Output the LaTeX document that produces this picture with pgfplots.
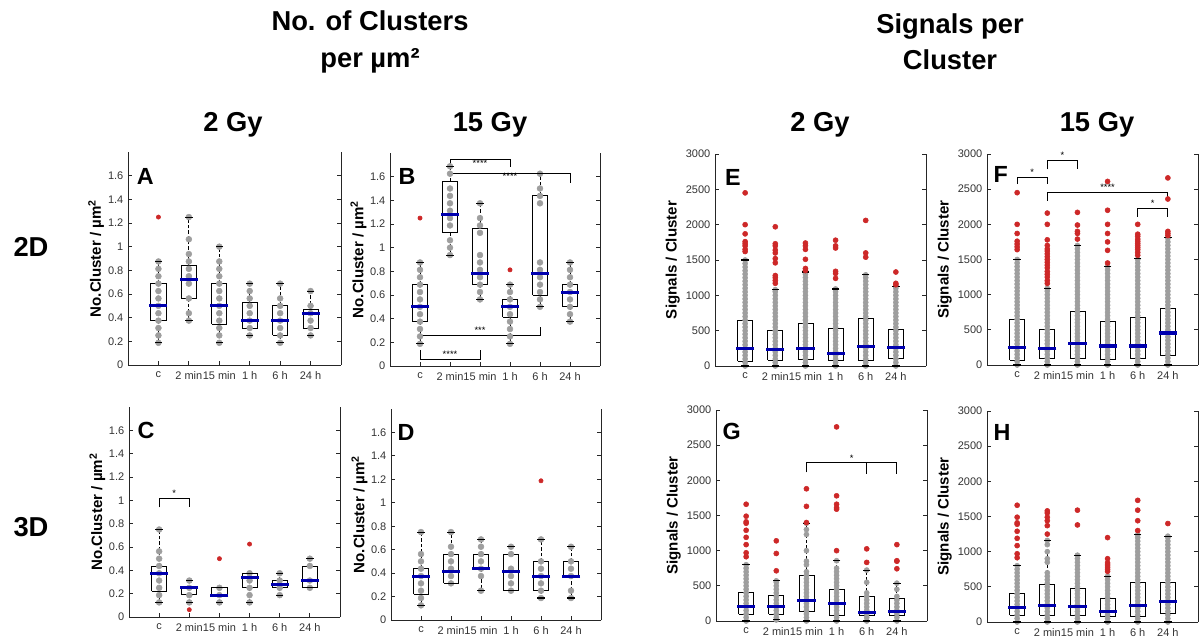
\documentclass[border=0pt]{standalone}
\usepackage{pgfplots}
\pgfplotsset{compat=1.18}
\usepackage{fontspec}
\setmainfont{Liberation Sans}
\definecolor{medblue}{RGB}{0,0,175}
\definecolor{outred}{RGB}{205,40,40}
\definecolor{dotgray}{RGB}{158,158,158}
\definecolor{axgray}{RGB}{38,38,38}
\tikzset{
  lett/.style={anchor=west, inner sep=0pt, font=\fontsize{17.5}{20}\selectfont\bfseries},
  star/.style={inner sep=1pt, font=\fontsize{7}{8}\selectfont},
  hdr/.style={font=\fontsize{20.5}{24}\selectfont\bfseries},
}
\pgfplotsset{
  panel/.style={
    scale only axis, clip=false, unbounded coords=jump,
    xmin=0, xmax=7, ymin=0,
    xtick={1,2,3,4,5,6}, xticklabels={c,2 min,15 min,1 h,6 h,24 h},
    axis x line*=bottom, axis y line*=box,
    axis line style={axgray, line width=0.6pt, -},
    tick align=inside, major tick length=3pt,
    tick style={axgray, line width=0.6pt},
    ticklabel style={font=\fontsize{8.25}{10}\selectfont, text=black!80},
    xticklabel style={yshift=-1.5pt},
    /pgf/number format/assume math mode=true,
    /pgf/number format/1000 sep={},
    scaled y ticks=false,
    ylabel style={font=\fontsize{11.3}{13}\selectfont\bfseries, at={(axis description cs:-0.15,0.5)}, anchor=center},
  },
  cl/.style={panel, ymax=1.8, ytick={0,0.2,0.4,0.6,0.8,1,1.2,1.4,1.6}, ylabel={No.Cluster / µm\textsuperscript{2}}},
  sg/.style={panel, ymax=3000, ytick={0,500,1000,1500,2000,2500,3000}, ylabel={Signals / Cluster},
    ylabel style={at={(axis description cs:-0.2,0.5)}}},
  gd/.style={only marks, mark=*, color=dotgray, mark size=2.2pt, mark options={fill=dotgray, draw=none}},
  gds/.style={gd, mark size=1.9pt},
  rd/.style={only marks, mark=*, color=outred, mark size=1.6pt, mark options={fill=outred, draw=none}},
  rds/.style={rd, mark size=1.9pt},
  boxl/.style={black, line width=0.6pt, mark=none, line join=miter},
  whis/.style={black, line width=0.6pt, mark=none, dash pattern=on 2.5pt off 1.5pt},
  capm/.style={only marks, mark=-, mark size=2.8pt, mark options={draw=black, line width=0.8pt, solid}},
  medm/.style={only marks, mark=-, mark size=6.8pt, mark options={draw=medblue, line width=2.3pt, solid}},
  brk/.style={black, line width=0.6pt, mark=none},
}
\begin{document}
\begin{tikzpicture}
\useasboundingbox (0,0) rectangle (900.75pt,479.25pt);
% ---------- headers ----------
\node[align=center, font=\fontsize{20.5}{27.5}\selectfont\bfseries] at (277.5pt,448pt) {No. of Clusters\\per µm²};
\node[align=center, font=\fontsize{20.5}{27.5}\selectfont\bfseries] at (712.5pt,448pt) {Signals per\\Cluster};
\node[hdr] at (174.75pt,386pt) {2 Gy};
\node[hdr] at (367.5pt,386pt) {15 Gy};
\node[hdr] at (615pt,386pt) {2 Gy};
\node[hdr] at (822.75pt,386pt) {15 Gy};
\node[hdr] at (23.25pt,294pt) {2D};
\node[hdr] at (23.25pt,84pt) {3D};

% ---------- A ----------
\begin{axis}[cl, at={(96pt,205.5pt)}, anchor=south west, width=159.75pt, height=159.75pt]
\addplot[gd] coordinates {(1,0.1875)(1,0.25)(1,0.3125)(1,0.375)(1,0.4375)(1,0.5)(1,0.5625)(1,0.625)(1,0.6875)(1,0.75)(1,0.8125)(1,0.875)
 (2,0.375)(2,0.4375)(2,0.5625)(2,0.6875)(2,0.75)(2,0.8125)(2,0.875)(2,0.9375)(2,1.0625)(2,1.25)
 (3,0.1875)(3,0.25)(3,0.3125)(3,0.375)(3,0.4375)(3,0.5)(3,0.5625)(3,0.625)(3,0.6875)(3,0.75)(3,0.8125)(3,0.875)(3,1)
 (4,0.25)(4,0.3125)(4,0.375)(4,0.4375)(4,0.5)(4,0.5625)(4,0.625)(4,0.6875)
 (5,0.1875)(5,0.25)(5,0.3125)(5,0.375)(5,0.4375)(5,0.5)(5,0.5625)(5,0.6875)
 (6,0.25)(6,0.3125)(6,0.375)(6,0.4375)(6,0.5)(6,0.625)};
\addplot[boxl] coordinates {(0.75,0.375)(1.25,0.375)(1.25,0.6875)(0.75,0.6875)(0.75,0.375)(1,nan)
 (1.75,0.5625)(2.25,0.5625)(2.25,0.84)(1.75,0.84)(1.75,0.5625)(2,nan)
 (2.75,0.344)(3.25,0.344)(3.25,0.6875)(2.75,0.6875)(2.75,0.344)(3,nan)
 (3.75,0.3125)(4.25,0.3125)(4.25,0.53)(3.75,0.53)(3.75,0.3125)(4,nan)
 (4.75,0.25)(5.25,0.25)(5.25,0.5)(4.75,0.5)(4.75,0.25)(5,nan)
 (5.75,0.3125)(6.25,0.3125)(6.25,0.47)(5.75,0.47)(5.75,0.3125)};
\addplot[whis] coordinates {(1,0.6875)(1,0.875)(1,nan)(1,0.375)(1,0.1875)(1,nan)
 (2,0.84)(2,1.25)(2,nan)(2,0.5625)(2,0.375)(2,nan)
 (3,0.6875)(3,1)(3,nan)(3,0.344)(3,0.1875)(3,nan)
 (4,0.53)(4,0.6875)(4,nan)(4,0.3125)(4,0.25)(4,nan)
 (5,0.5)(5,0.6875)(5,nan)(5,0.25)(5,0.1875)(5,nan)
 (6,0.47)(6,0.625)(6,nan)(6,0.3125)(6,0.25)};
\addplot[capm] coordinates {(1,0.1875)(1,0.875)(2,0.375)(2,1.25)(3,0.1875)(3,1)(4,0.25)(4,0.6875)(5,0.1875)(5,0.6875)(6,0.25)(6,0.625)};
\addplot[medm] coordinates {(1,0.5)(2,0.72)(3,0.5)(4,0.375)(5,0.375)(6,0.4375)};
\addplot[rd] coordinates {(1,1.25)};
\node[lett] at (rel axis cs:0.04,0.887) {A};
\end{axis}

% ---------- B ----------
\begin{axis}[cl, at={(292.5pt,204.75pt)}, anchor=south west, width=157.5pt, height=159.75pt]
\addplot[gd] coordinates {(1,0.1875)(1,0.25)(1,0.3125)(1,0.375)(1,0.4375)(1,0.5)(1,0.5625)(1,0.625)(1,0.6875)(1,0.75)(1,0.8125)(1,0.875)
 (2,0.9375)(2,1)(2,1.0625)(2,1.1875)(2,1.25)(2,1.3125)(2,1.375)(2,1.4375)(2,1.5)(2,1.625)(2,1.6875)
 (3,0.5625)(3,0.625)(3,0.6875)(3,0.75)(3,0.8125)(3,0.875)(3,0.9375)(3,1.125)(3,1.1875)(3,1.25)(3,1.375)
 (4,0.1875)(4,0.25)(4,0.3125)(4,0.375)(4,0.4375)(4,0.5)(4,0.5625)(4,0.625)(4,0.6875)
 (5,0.5)(5,0.5625)(5,0.625)(5,0.6875)(5,0.75)(5,0.8125)(5,0.875)(5,1.375)(5,1.4375)(5,1.5)(5,1.625)
 (6,0.375)(6,0.4375)(6,0.5)(6,0.5625)(6,0.625)(6,0.6875)(6,0.75)(6,0.8125)(6,0.875)};
\addplot[boxl] coordinates {(0.75,0.375)(1.25,0.375)(1.25,0.6875)(0.75,0.6875)(0.75,0.375)(1,nan)
 (1.75,1.125)(2.25,1.125)(2.25,1.5625)(1.75,1.5625)(1.75,1.125)(2,nan)
 (2.75,0.6875)(3.25,0.6875)(3.25,1.16)(2.75,1.16)(2.75,0.6875)(3,nan)
 (3.75,0.41)(4.25,0.41)(4.25,0.5625)(3.75,0.5625)(3.75,0.41)(4,nan)
 (4.75,0.6)(5.25,0.6)(5.25,1.44)(4.75,1.44)(4.75,0.6)(5,nan)
 (5.75,0.5)(6.25,0.5)(6.25,0.6875)(5.75,0.6875)(5.75,0.5)};
\addplot[whis] coordinates {(1,0.6875)(1,0.875)(1,nan)(1,0.375)(1,0.1875)(1,nan)
 (2,1.5625)(2,1.6875)(2,nan)(2,1.125)(2,0.9375)(2,nan)
 (3,1.16)(3,1.375)(3,nan)(3,0.6875)(3,0.5625)(3,nan)
 (4,0.5625)(4,0.6875)(4,nan)(4,0.41)(4,0.1875)(4,nan)
 (5,1.44)(5,1.625)(5,nan)(5,0.6)(5,0.5)(5,nan)
 (6,0.6875)(6,0.875)(6,nan)(6,0.5)(6,0.375)};
\addplot[capm] coordinates {(1,0.1875)(1,0.875)(2,0.9375)(2,1.6875)(3,0.5625)(3,1.375)(4,0.1875)(4,0.6875)(5,0.5)(5,1.625)(6,0.375)(6,0.875)};
\addplot[medm] coordinates {(1,0.5)(2,1.28)(3,0.78)(4,0.5)(5,0.78)(6,0.625)};
\addplot[rd] coordinates {(1,1.25)(4,0.8125)};
\addplot[brk] coordinates {(2,1.70)(2,1.745)(4,1.745)(4,1.68)};
\addplot[brk] coordinates {(2,1.628)(6,1.628)(6,1.55)};
\addplot[brk] coordinates {(1,0.31)(1,0.257)(5,0.257)(5,0.33)};
\addplot[brk] coordinates {(1,0.136)(1,0.0565)(3,0.0565)(3,0.136)};
\node[star, anchor=center, yshift=-2.5pt] at (axis cs:3,1.745) {****};
\node[star, anchor=center, yshift=-2.5pt] at (axis cs:4,1.628) {****};
\node[star, anchor=south] at (axis cs:3,0.257) {***};
\node[star, anchor=south] at (axis cs:2,0.0565) {****};
\node[lett] at (rel axis cs:0.04,0.89) {B};
\end{axis}

% ---------- C ----------
\begin{axis}[cl, at={(96.75pt,16.5pt)}, anchor=south west, width=158.25pt, height=157.5pt]
\addplot[gd] coordinates {(1,0.125)(1,0.1875)(1,0.25)(1,0.3125)(1,0.375)(1,0.4375)(1,0.5)(1,0.5625)(1,0.75)
 (2,0.125)(2,0.1875)(2,0.25)(2,0.3125)
 (3,0.125)(3,0.1875)(3,0.25)
 (4,0.125)(4,0.1875)(4,0.25)(4,0.3125)(4,0.375)
 (5,0.1875)(5,0.25)(5,0.3125)(5,0.375)
 (6,0.25)(6,0.3125)(6,0.4375)(6,0.5)};
\addplot[boxl] coordinates {(0.75,0.22)(1.25,0.22)(1.25,0.4375)(0.75,0.4375)(0.75,0.22)(1,nan)
 (1.75,0.19)(2.25,0.19)(2.25,0.25)(1.75,0.25)(1.75,0.19)(2,nan)
 (2.75,0.1875)(3.25,0.1875)(3.25,0.25)(2.75,0.25)(2.75,0.1875)(3,nan)
 (3.75,0.25)(4.25,0.25)(4.25,0.375)(3.75,0.375)(3.75,0.25)(4,nan)
 (4.75,0.25)(5.25,0.25)(5.25,0.3125)(4.75,0.3125)(4.75,0.25)(5,nan)
 (5.75,0.25)(6.25,0.25)(6.25,0.4375)(5.75,0.4375)(5.75,0.25)};
\addplot[whis] coordinates {(1,0.4375)(1,0.75)(1,nan)(1,0.22)(1,0.125)(1,nan)
 (2,0.25)(2,0.3125)(2,nan)(2,0.19)(2,0.125)(2,nan)
 (3,0.1875)(3,0.125)(3,nan)
 (4,0.25)(4,0.125)(4,nan)
 (5,0.3125)(5,0.375)(5,nan)(5,0.25)(5,0.1875)(5,nan)
 (6,0.4375)(6,0.5)};
\addplot[capm] coordinates {(1,0.125)(1,0.75)(2,0.125)(2,0.3125)(3,0.125)(3,0.25)(4,0.125)(4,0.375)(5,0.1875)(5,0.375)(6,0.25)(6,0.5)};
\addplot[medm] coordinates {(1,0.375)(2,0.25)(3,0.1875)(4,0.34)(5,0.28)(6,0.3125)};
\addplot[rd] coordinates {(2,0.0625)(3,0.5)(4,0.625)};
\addplot[brk] coordinates {(1,0.94)(1,1.02)(2,1.02)(2,0.94)};
\node[star, anchor=south] at (axis cs:1.5,1.02) {*};
\node[lett] at (rel axis cs:0.04,0.89) {C};
\end{axis}

% ---------- D ----------
\begin{axis}[cl, at={(293.25pt,14.25pt)}, anchor=south west, width=157.5pt, height=158.25pt]
\addplot[gd] coordinates {(1,0.125)(1,0.1875)(1,0.25)(1,0.3125)(1,0.375)(1,0.4375)(1,0.5)(1,0.5625)(1,0.75)
 (2,0.3125)(2,0.375)(2,0.4375)(2,0.5)(2,0.5625)(2,0.625)(2,0.75)
 (3,0.25)(3,0.375)(3,0.4375)(3,0.5)(3,0.5625)(3,0.625)(3,0.6875)
 (4,0.25)(4,0.3125)(4,0.375)(4,0.4375)(4,0.5625)(4,0.625)
 (5,0.1875)(5,0.25)(5,0.3125)(5,0.375)(5,0.4375)(5,0.5)(5,0.6875)
 (6,0.1875)(6,0.25)(6,0.375)(6,0.4375)(6,0.5)(6,0.625)};
\addplot[boxl] coordinates {(0.75,0.22)(1.25,0.22)(1.25,0.44)(0.75,0.44)(0.75,0.22)(1,nan)
 (1.75,0.3125)(2.25,0.3125)(2.25,0.5625)(1.75,0.5625)(1.75,0.3125)(2,nan)
 (2.75,0.4375)(3.25,0.4375)(3.25,0.5625)(2.75,0.5625)(2.75,0.4375)(3,nan)
 (3.75,0.25)(4.25,0.25)(4.25,0.5625)(3.75,0.5625)(3.75,0.25)(4,nan)
 (4.75,0.25)(5.25,0.25)(5.25,0.5)(4.75,0.5)(4.75,0.25)(5,nan)
 (5.75,0.375)(6.25,0.375)(6.25,0.5)(5.75,0.5)(5.75,0.375)};
\addplot[whis] coordinates {(1,0.44)(1,0.75)(1,nan)(1,0.22)(1,0.125)(1,nan)
 (2,0.5625)(2,0.75)(2,nan)
 (3,0.5625)(3,0.6875)(3,nan)(3,0.4375)(3,0.25)(3,nan)
 (4,0.5625)(4,0.625)(4,nan)
 (5,0.5)(5,0.6875)(5,nan)(5,0.25)(5,0.1875)(5,nan)
 (6,0.5)(6,0.625)(6,nan)(6,0.375)(6,0.1875)};
\addplot[capm] coordinates {(1,0.125)(1,0.75)(2,0.3125)(2,0.75)(3,0.25)(3,0.6875)(4,0.25)(4,0.625)(5,0.1875)(5,0.6875)(6,0.1875)(6,0.625)};
\addplot[medm] coordinates {(1,0.375)(2,0.41)(3,0.4375)(4,0.41)(5,0.375)(6,0.375)};
\addplot[rd] coordinates {(5,1.1875)};
\node[lett] at (rel axis cs:0.03,0.89) {D};
\end{axis}

% ---------- E ----------
\begin{axis}[sg, at={(536.25pt,204.75pt)}, anchor=south west, width=158.25pt, height=159pt]
\addplot[gds] coordinates {(1,0)(1,50)(1,100)(1,150)(1,200)(1,250)(1,300)(1,350)(1,400)(1,450)(1,500)(1,550)(1,600)(1,650)(1,700)(1,750)(1,800)(1,850)(1,900)(1,950)(1,1000)(1,1050)(1,1100)(1,1150)(1,1200)(1,1250)(1,1300)(1,1350)(1,1400)(1,1450)(1,1500)
 (2,0)(2,50)(2,100)(2,150)(2,200)(2,250)(2,300)(2,350)(2,400)(2,450)(2,500)(2,550)(2,600)(2,650)(2,700)(2,750)(2,800)(2,850)(2,900)(2,950)(2,1000)(2,1050)(2,1080)
 (3,0)(3,50)(3,100)(3,150)(3,200)(3,250)(3,300)(3,350)(3,400)(3,450)(3,500)(3,550)(3,600)(3,650)(3,700)(3,750)(3,800)(3,850)(3,900)(3,950)(3,1000)(3,1050)(3,1100)(3,1150)(3,1200)(3,1250)(3,1300)(3,1330)
 (4,0)(4,50)(4,100)(4,150)(4,200)(4,250)(4,300)(4,350)(4,400)(4,450)(4,500)(4,550)(4,600)(4,650)(4,700)(4,750)(4,800)(4,850)(4,900)(4,950)(4,1000)(4,1050)(4,1090)
 (5,0)(5,50)(5,100)(5,150)(5,200)(5,250)(5,300)(5,350)(5,400)(5,450)(5,500)(5,550)(5,600)(5,650)(5,700)(5,750)(5,800)(5,850)(5,900)(5,950)(5,1000)(5,1050)(5,1100)(5,1150)(5,1200)(5,1250)(5,1290)
 (6,0)(6,50)(6,100)(6,150)(6,200)(6,250)(6,300)(6,350)(6,400)(6,450)(6,500)(6,550)(6,600)(6,650)(6,700)(6,750)(6,800)(6,850)(6,900)(6,950)(6,1000)(6,1050)(6,1100)(6,1130)};
\addplot[boxl] coordinates {(0.75,70)(1.25,70)(1.25,650)(0.75,650)(0.75,70)(1,nan)
 (1.75,85)(2.25,85)(2.25,505)(1.75,505)(1.75,85)(2,nan)
 (2.75,100)(3.25,100)(3.25,600)(2.75,600)(2.75,100)(3,nan)
 (3.75,75)(4.25,75)(4.25,530)(3.75,530)(3.75,75)(4,nan)
 (4.75,85)(5.25,85)(5.25,670)(4.75,670)(4.75,85)(5,nan)
 (5.75,110)(6.25,110)(6.25,520)(5.75,520)(5.75,110)};
\addplot[whis] coordinates {(1,650)(1,1500)(1,nan)(1,70)(1,0)(1,nan)
 (2,505)(2,1080)(2,nan)(2,85)(2,0)(2,nan)
 (3,600)(3,1330)(3,nan)(3,100)(3,0)(3,nan)
 (4,530)(4,1090)(4,nan)(4,75)(4,0)(4,nan)
 (5,670)(5,1290)(5,nan)(5,85)(5,0)(5,nan)
 (6,520)(6,1130)(6,nan)(6,110)(6,0)};
\addplot[capm] coordinates {(1,0)(1,1500)(2,0)(2,1080)(3,0)(3,1330)(4,0)(4,1090)(5,0)(5,1290)(6,0)(6,1130)};
\addplot[medm] coordinates {(1,250)(2,240)(3,250)(4,180)(5,270)(6,260)};
\addplot[rds] coordinates {(1,1620)(1,1650)(1,1700)(1,1730)(1,1760)(1,1870)(1,2000)(1,2450)
 (2,1170)(2,1210)(2,1250)(2,1280)(2,1460)(2,1520)(2,1600)(2,1640)(2,1700)(2,1730)(2,1970)
 (3,1350)(3,1380)(3,1510)(3,1650)(3,1700)(3,1740)
 (4,1240)(4,1310)(4,1340)(4,1670)(4,1700)(4,1780)
 (5,1540)(5,1600)(5,2060)
 (6,1150)(6,1170)(6,1330)};
\node[lett] at (rel axis cs:0.047,0.89) {E};
\end{axis}

% ---------- F ----------
\begin{axis}[sg, at={(740.25pt,205.5pt)}, anchor=south west, width=158.25pt, height=158.25pt]
\addplot[gds] coordinates {(1,0)(1,50)(1,100)(1,150)(1,200)(1,250)(1,300)(1,350)(1,400)(1,450)(1,500)(1,550)(1,600)(1,650)(1,700)(1,750)(1,800)(1,850)(1,900)(1,950)(1,1000)(1,1050)(1,1100)(1,1150)(1,1200)(1,1250)(1,1300)(1,1350)(1,1400)(1,1450)(1,1500)
 (2,0)(2,50)(2,100)(2,150)(2,200)(2,250)(2,300)(2,350)(2,400)(2,450)(2,500)(2,550)(2,600)(2,650)(2,700)(2,750)(2,800)(2,850)(2,900)(2,950)(2,1000)(2,1050)(2,1090)
 (3,0)(3,50)(3,100)(3,150)(3,200)(3,250)(3,300)(3,350)(3,400)(3,450)(3,500)(3,550)(3,600)(3,650)(3,700)(3,750)(3,800)(3,850)(3,900)(3,950)(3,1000)(3,1050)(3,1100)(3,1150)(3,1200)(3,1250)(3,1300)(3,1350)(3,1400)(3,1450)(3,1500)(3,1550)(3,1600)(3,1650)(3,1700)
 (4,0)(4,50)(4,100)(4,150)(4,200)(4,250)(4,300)(4,350)(4,400)(4,450)(4,500)(4,550)(4,600)(4,650)(4,700)(4,750)(4,800)(4,850)(4,900)(4,950)(4,1000)(4,1050)(4,1100)(4,1150)(4,1200)(4,1250)(4,1300)(4,1350)(4,1400)
 (5,0)(5,50)(5,100)(5,150)(5,200)(5,250)(5,300)(5,350)(5,400)(5,450)(5,500)(5,550)(5,600)(5,650)(5,700)(5,750)(5,800)(5,850)(5,900)(5,950)(5,1000)(5,1050)(5,1100)(5,1150)(5,1200)(5,1250)(5,1300)(5,1350)(5,1400)(5,1450)(5,1500)
 (6,0)(6,50)(6,100)(6,150)(6,200)(6,250)(6,300)(6,350)(6,400)(6,450)(6,500)(6,550)(6,600)(6,650)(6,700)(6,750)(6,800)(6,850)(6,900)(6,950)(6,1000)(6,1050)(6,1100)(6,1150)(6,1200)(6,1250)(6,1300)(6,1350)(6,1400)(6,1450)(6,1500)(6,1550)(6,1600)(6,1650)(6,1700)(6,1750)(6,1800)};
\addplot[boxl] coordinates {(0.75,65)(1.25,65)(1.25,650)(0.75,650)(0.75,65)(1,nan)
 (1.75,90)(2.25,90)(2.25,510)(1.75,510)(1.75,90)(2,nan)
 (2.75,95)(3.25,95)(3.25,760)(2.75,760)(2.75,95)(3,nan)
 (3.75,85)(4.25,85)(4.25,625)(3.75,625)(3.75,85)(4,nan)
 (4.75,95)(5.25,95)(5.25,675)(4.75,675)(4.75,95)(5,nan)
 (5.75,130)(6.25,130)(6.25,810)(5.75,810)(5.75,130)};
\addplot[whis] coordinates {(1,650)(1,1500)(1,nan)(1,65)(1,0)(1,nan)
 (2,510)(2,1090)(2,nan)(2,90)(2,0)(2,nan)
 (3,760)(3,1700)(3,nan)(3,95)(3,0)(3,nan)
 (4,625)(4,1400)(4,nan)(4,85)(4,0)(4,nan)
 (5,675)(5,1510)(5,nan)(5,95)(5,0)(5,nan)
 (6,810)(6,1810)(6,nan)(6,130)(6,0)};
\addplot[capm] coordinates {(1,0)(1,1500)(2,0)(2,1090)(3,0)(3,1700)(4,0)(4,1400)(5,0)(5,1510)(6,0)(6,1810)};
\addplot[medm] coordinates {(1,250)(2,230)(3,300)(4,270)(5,270)(6,455)};
\addplot[rds] coordinates {(1,1640)(1,1680)(1,1720)(1,1760)(1,1870)(1,2000)(1,2450)
 (2,1160)(2,1200)(2,1250)(2,1290)(2,1330)(2,1380)(2,1420)(2,1460)(2,1500)(2,1540)(2,1580)(2,1620)(2,1650)(2,1700)(2,1780)(2,2000)(2,2160)
 (3,1790)(3,1870)(3,1900)(3,1990)(3,2170)
 (4,1450)(4,1630)(4,1750)(4,1870)(4,2000)(4,2200)(4,2610)
 (5,1560)(5,1600)(5,1640)(5,1670)(5,1700)(5,1730)(5,1760)(5,1790)(5,1830)(5,1860)(5,2000)
 (6,1840)(6,1870)(6,1900)(6,2360)(6,2660)};
\addplot[brk] coordinates {(1,2570)(1,2670)(2,2670)(2,2570)};
\addplot[brk] coordinates {(2,2780)(2,2915)(3,2915)(3,2780)};
\addplot[brk] coordinates {(2,2336)(2,2455)(6,2455)(6,2336)};
\addplot[brk] coordinates {(5,2109)(5,2227)(6,2227)(6,2109)};
\node[star, anchor=south] at (axis cs:1.5,2670) {*};
\node[star, anchor=south] at (axis cs:2.5,2915) {*};
\node[star, anchor=south] at (axis cs:4,2455) {****};
\node[star, anchor=south] at (axis cs:5.5,2227) {*};
\node[lett] at (rel axis cs:0.03,0.905) {F};
\end{axis}

% ---------- G ----------
\begin{axis}[sg, at={(537pt,13.5pt)}, anchor=south west, width=158.25pt, height=158.25pt]
\addplot[gds] coordinates {(1,0)(1,50)(1,100)(1,150)(1,200)(1,250)(1,300)(1,350)(1,400)(1,450)(1,500)(1,550)(1,600)(1,650)(1,700)(1,750)(1,800)
 (2,15)(2,50)(2,100)(2,150)(2,200)(2,250)(2,300)(2,350)(2,400)(2,450)(2,500)(2,550)(2,571)
 (3,0)(3,50)(3,100)(3,150)(3,200)(3,250)(3,300)(3,350)(3,400)(3,450)(3,500)(3,550)(3,600)(3,650)(3,700)(3,800)(3,850)(3,1000)(3,1230)(3,1300)(3,1390)
 (4,0)(4,50)(4,100)(4,150)(4,200)(4,250)(4,300)(4,350)(4,400)(4,450)(4,500)(4,550)(4,600)(4,650)(4,700)(4,750)(4,857)
 (5,0)(5,50)(5,100)(5,150)(5,200)(5,250)(5,300)(5,350)(5,400)(5,550)(5,724)
 (6,0)(6,50)(6,100)(6,150)(6,200)(6,250)(6,300)(6,350)(6,450)(6,538)};
\addplot[boxl] coordinates {(0.75,95)(1.25,95)(1.25,405)(0.75,405)(0.75,95)(1,nan)
 (1.75,100)(2.25,100)(2.25,357)(1.75,357)(1.75,100)(2,nan)
 (2.75,133)(3.25,133)(3.25,652)(2.75,652)(2.75,133)(3,nan)
 (3.75,86)(4.25,86)(4.25,452)(3.75,452)(3.75,86)(4,nan)
 (4.75,86)(5.25,86)(5.25,352)(4.75,352)(4.75,86)(5,nan)
 (5.75,86)(6.25,86)(6.25,319)(5.75,319)(5.75,86)};
\addplot[whis] coordinates {(1,405)(1,800)(1,nan)(1,95)(1,0)(1,nan)
 (2,357)(2,571)(2,nan)(2,100)(2,15)(2,nan)
 (3,652)(3,1390)(3,nan)(3,133)(3,0)(3,nan)
 (4,452)(4,857)(4,nan)(4,86)(4,0)(4,nan)
 (5,352)(5,724)(5,nan)(5,86)(5,0)(5,nan)
 (6,319)(6,538)(6,nan)(6,86)(6,0)};
\addplot[capm] coordinates {(1,0)(1,800)(2,15)(2,571)(3,0)(3,1390)(4,0)(4,857)(5,0)(5,724)(6,0)(6,538)};
\addplot[medm] coordinates {(1,210)(2,205)(3,286)(4,252)(5,124)(6,133)};
\addplot[rds] coordinates {(1,914)(1,970)(1,1086)(1,1190)(1,1290)(1,1390)(1,1410)(1,1490)(1,1660)
 (2,714)(2,960)(2,1140)
 (3,1400)(3,1630)(3,1880)
 (4,1000)(4,1590)(4,1610)(4,1660)(4,1780)(4,2760)
 (5,833)(5,1026)
 (6,743)(6,850)(6,857)(6,1086)};
\addplot[brk] coordinates {(3,2114)(3,2248)(6,2248)(6,2095)};
\addplot[brk] coordinates {(5,2248)(5,2095)};
\node[star, anchor=south] at (axis cs:4.5,2248) {*};
\node[lett] at (rel axis cs:0.03,0.9) {G};
\end{axis}

% ---------- H ----------
\begin{axis}[sg, at={(740.25pt,12.75pt)}, anchor=south west, width=158.25pt, height=158.25pt]
\addplot[gds] coordinates {(1,0)(1,50)(1,100)(1,150)(1,200)(1,250)(1,300)(1,350)(1,400)(1,450)(1,500)(1,550)(1,600)(1,650)(1,700)(1,750)(1,800)
 (2,0)(2,50)(2,100)(2,150)(2,200)(2,250)(2,300)(2,350)(2,400)(2,450)(2,500)(2,550)(2,600)(2,650)(2,700)(2,850)(2,900)(2,1000)(2,1100)(2,1160)
 (3,0)(3,50)(3,100)(3,150)(3,200)(3,250)(3,300)(3,350)(3,400)(3,450)(3,500)(3,550)(3,600)(3,650)(3,700)(3,750)(3,800)(3,850)(3,900)(3,950)
 (4,0)(4,50)(4,100)(4,150)(4,200)(4,250)(4,300)(4,350)(4,400)(4,450)(4,500)(4,550)(4,600)(4,650)
 (5,0)(5,50)(5,100)(5,150)(5,200)(5,250)(5,300)(5,350)(5,400)(5,450)(5,500)(5,550)(5,600)(5,650)(5,700)(5,750)(5,800)(5,850)(5,900)(5,950)(5,1000)(5,1050)(5,1100)(5,1150)(5,1200)(5,1240)
 (6,0)(6,50)(6,100)(6,150)(6,200)(6,250)(6,300)(6,350)(6,400)(6,450)(6,500)(6,550)(6,600)(6,650)(6,700)(6,750)(6,800)(6,850)(6,900)(6,950)(6,1000)(6,1050)(6,1100)(6,1150)(6,1200)(6,1220)};
\addplot[boxl] coordinates {(0.75,95)(1.25,95)(1.25,405)(0.75,405)(0.75,95)(1,nan)
 (1.75,100)(2.25,100)(2.25,540)(1.75,540)(1.75,100)(2,nan)
 (2.75,95)(3.25,95)(3.25,475)(2.75,475)(2.75,95)(3,nan)
 (3.75,80)(4.25,80)(4.25,330)(3.75,330)(3.75,80)(4,nan)
 (4.75,85)(5.25,85)(5.25,560)(4.75,560)(4.75,85)(5,nan)
 (5.75,125)(6.25,125)(6.25,570)(5.75,570)(5.75,125)};
\addplot[whis] coordinates {(1,405)(1,800)(1,nan)(1,95)(1,0)(1,nan)
 (2,540)(2,1160)(2,nan)(2,100)(2,0)(2,nan)
 (3,475)(3,950)(3,nan)(3,95)(3,0)(3,nan)
 (4,330)(4,650)(4,nan)(4,80)(4,0)(4,nan)
 (5,560)(5,1240)(5,nan)(5,85)(5,0)(5,nan)
 (6,570)(6,1220)(6,nan)(6,125)(6,0)};
\addplot[capm] coordinates {(1,0)(1,800)(2,0)(2,1160)(3,0)(3,950)(4,0)(4,650)(5,0)(5,1240)(6,0)(6,1220)};
\addplot[medm] coordinates {(1,210)(2,235)(3,215)(4,150)(5,235)(6,285)};
\addplot[rds] coordinates {(1,914)(1,970)(1,1086)(1,1190)(1,1290)(1,1390)(1,1410)(1,1490)(1,1660)
 (2,1250)(2,1370)(2,1440)(2,1490)(2,1550)(2,1580)
 (3,1380)(3,1590)
 (4,720)(4,750)(4,780)(4,810)(4,840)(4,900)(4,1200)
 (5,1300)(5,1440)(5,1590)(5,1730)
 (6,1400)};
\node[lett] at (rel axis cs:0.03,0.9) {H};
\end{axis}
\end{tikzpicture}
\end{document}
